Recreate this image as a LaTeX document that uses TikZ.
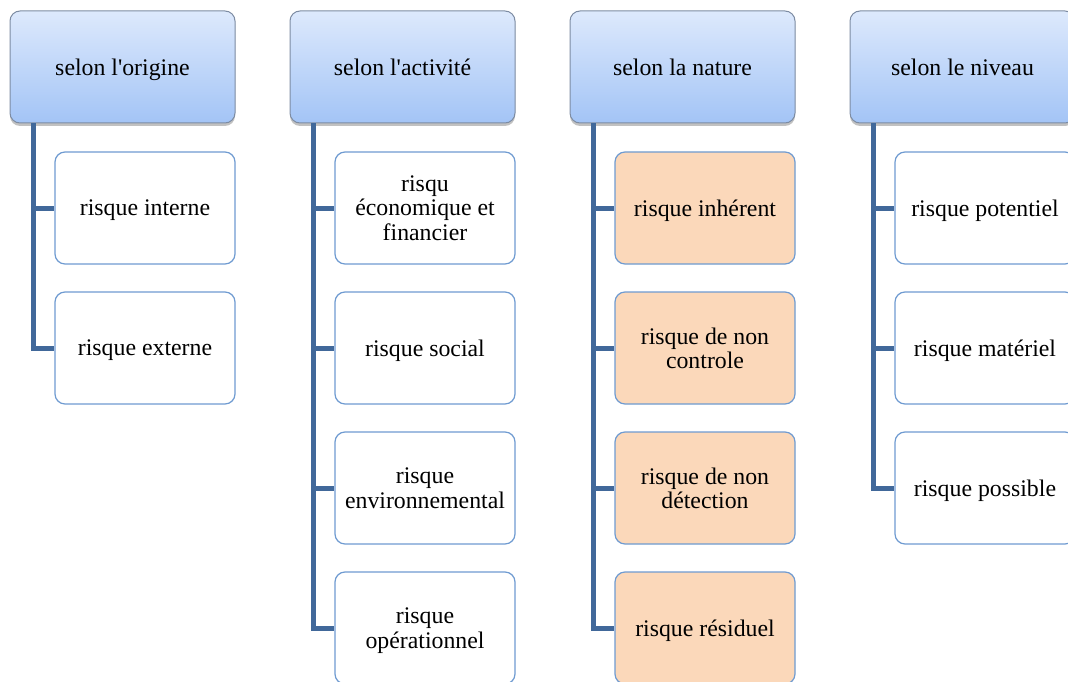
\documentclass[tikz,border=0pt]{standalone}
\usepackage{fontspec}
\setmainfont{Liberation Serif}[Ligatures=TeXOff]
\usetikzlibrary{shadows,positioning}
\definecolor{hdtop}{HTML}{DDE9FC}
\definecolor{hdbot}{HTML}{A3C4F6}
\definecolor{hdline}{HTML}{7D8CA3}
\definecolor{trunkc}{HTML}{41689A}
\definecolor{boxline}{HTML}{6F9BD1}
\definecolor{orangefill}{HTML}{FBD8BA}
\tikzset{
  txt/.style={font=\fontsize{23.8}{24.5}\selectfont, text depth=0pt},
  header/.style={draw=hdline, line width=1pt, rounded corners=10pt, top color=hdtop, bottom color=hdbot,
    minimum width=225pt, minimum height=112pt, align=center, inner sep=0pt, txt,
    drop shadow={shadow xshift=0pt, shadow yshift=-3pt, opacity=0.4, fill=black!60}},
  child/.style={draw=boxline, line width=1.2pt, rounded corners=10pt, fill=white,
    minimum width=180pt, minimum height=112pt, align=center, inner sep=0pt, txt},
  hot/.style={child, fill=orangefill},
  trunk/.style={draw=trunkc, line width=5pt, line join=miter}
}
\begin{document}
\begin{tikzpicture}[x=1pt,y=-1pt]
\clip (0,0) rectangle (1068,682);
\fill[white] (0,0) rectangle (1068,682);
% headers
\node[header] (h1) at (122.5,67) {selon l'origine};
\node[header] (h2) at (402.5,67) {selon l'activité};
\node[header] (h3) at (682.5,67) {selon la nature};
\node[header] (h4) at (962.5,67) {selon le niveau};
% trunk anchor points
\coordinate (t1) at ([xshift=24pt]h1.south west);
\coordinate (t2) at ([xshift=24pt]h2.south west);
\coordinate (t3) at ([xshift=24pt]h3.south west);
\coordinate (t4) at ([xshift=24pt]h4.south west);
% children
\node[child] (a1) at (145,208) {risque interne};
\node[child] (a2) at (145,348) {risque externe};
\node[child] (b1) at (425,208) {risqu\\économique et\\financier};
\node[child] (b2) at (425,348) {risque social};
\node[child] (b3) at (425,488) {risque\\environnemental};
\node[child] (b4) at (425,628) {risque\\opérationnel};
\node[hot] (c1) at (705,208) {risque inhérent};
\node[hot] (c2) at (705,348) {risque de non\\controle};
\node[hot] (c3) at (705,488) {risque de non\\détection};
\node[hot] (c4) at (705,628) {risque résiduel};
\node[child] (d1) at (985,208) {risque potentiel};
\node[child] (d2) at (985,348) {risque matériel};
\node[child] (d3) at (985,488) {risque possible};
% connectors
\draw[trunk] (t1) |- (a2.west);
\draw[trunk] (t1 |- a1.west) -- (a1.west);
\draw[trunk] (t2) |- (b4.west);
\draw[trunk] (t2 |- b1.west) -- (b1.west);
\draw[trunk] (t2 |- b2.west) -- (b2.west);
\draw[trunk] (t2 |- b3.west) -- (b3.west);
\draw[trunk] (t3) |- (c4.west);
\draw[trunk] (t3 |- c1.west) -- (c1.west);
\draw[trunk] (t3 |- c2.west) -- (c2.west);
\draw[trunk] (t3 |- c3.west) -- (c3.west);
\draw[trunk] (t4) |- (d3.west);
\draw[trunk] (t4 |- d1.west) -- (d1.west);
\draw[trunk] (t4 |- d2.west) -- (d2.west);
\end{tikzpicture}
\end{document}
